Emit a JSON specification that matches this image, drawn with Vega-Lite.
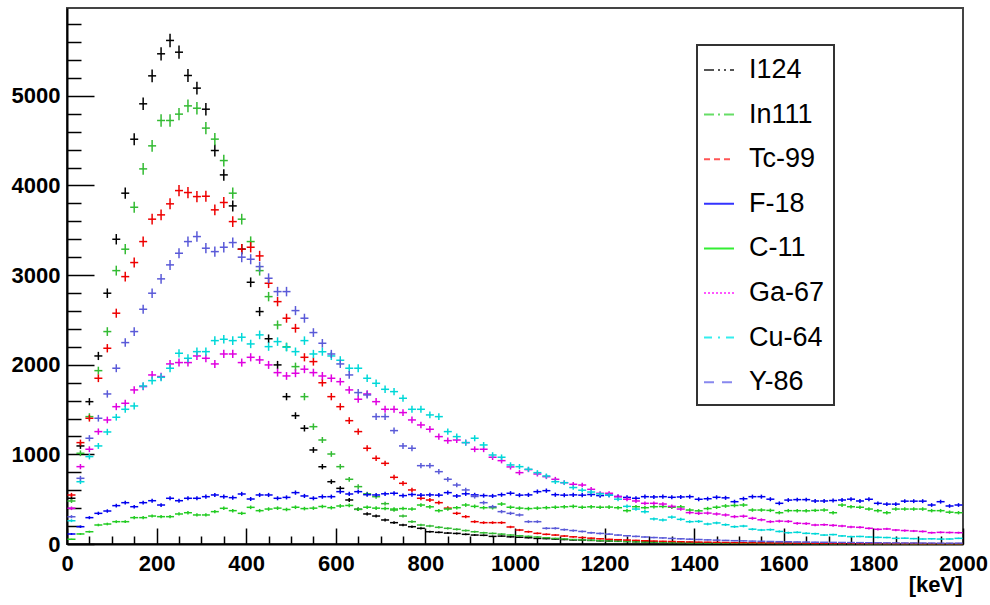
{
"$schema": "https://vega.github.io/schema/vega-lite/v6.json",
"width": 896, "height": 536,
"autosize": {"type": "none"},
"padding": {"left": 67, "top": 8, "right": 27, "bottom": 61},
"background": "white",
"config": {"view": {"stroke": "#444", "strokeWidth": 2}, "font": "Liberation Sans", "legend": {"strokeWidth": 2}},
"data": {"values": [
{"s":"I124","e":10,"n":510},{"s":"I124","e":30,"n":1094},{"s":"I124","e":50,"n":1588},{"s":"I124","e":70,"n":2098},{"s":"I124","e":90,"n":2798},{"s":"I124","e":110,"n":3400},{"s":"I124","e":130,"n":3914},{"s":"I124","e":150,"n":4516},{"s":"I124","e":170,"n":4911},{"s":"I124","e":190,"n":5223},
{"s":"I124","e":210,"n":5469},{"s":"I124","e":230,"n":5618},{"s":"I124","e":250,"n":5487},{"s":"I124","e":270,"n":5227},{"s":"I124","e":290,"n":5086},{"s":"I124","e":310,"n":4851},{"s":"I124","e":330,"n":4390},{"s":"I124","e":350,"n":4118},{"s":"I124","e":370,"n":3772},{"s":"I124","e":390,"n":3290},
{"s":"I124","e":410,"n":2920},{"s":"I124","e":430,"n":2593},{"s":"I124","e":450,"n":2290},{"s":"I124","e":470,"n":1998},{"s":"I124","e":490,"n":1644},{"s":"I124","e":510,"n":1432},{"s":"I124","e":530,"n":1291},{"s":"I124","e":550,"n":1049},{"s":"I124","e":570,"n":863},{"s":"I124","e":590,"n":695},
{"s":"I124","e":610,"n":621},{"s":"I124","e":630,"n":491},{"s":"I124","e":650,"n":387},{"s":"I124","e":670,"n":335},{"s":"I124","e":690,"n":312},{"s":"I124","e":710,"n":268},{"s":"I124","e":730,"n":238},{"s":"I124","e":750,"n":212},{"s":"I124","e":770,"n":193},{"s":"I124","e":790,"n":175},
{"s":"I124","e":810,"n":137},{"s":"I124","e":830,"n":130},{"s":"I124","e":850,"n":122},{"s":"I124","e":870,"n":118},{"s":"I124","e":890,"n":108},{"s":"I124","e":910,"n":100},{"s":"I124","e":930,"n":97},{"s":"I124","e":950,"n":85},{"s":"I124","e":970,"n":88},{"s":"I124","e":990,"n":80},
{"s":"I124","e":1010,"n":75},{"s":"I124","e":1030,"n":70},{"s":"I124","e":1050,"n":62},{"s":"I124","e":1070,"n":60},{"s":"I124","e":1090,"n":55},{"s":"I124","e":1110,"n":50},{"s":"I124","e":1130,"n":45},{"s":"I124","e":1150,"n":44},{"s":"I124","e":1170,"n":40},{"s":"I124","e":1190,"n":36},
{"s":"I124","e":1210,"n":33},{"s":"I124","e":1230,"n":30},{"s":"I124","e":1250,"n":28},{"s":"I124","e":1270,"n":26},{"s":"I124","e":1290,"n":24},{"s":"I124","e":1310,"n":22},{"s":"I124","e":1330,"n":20},{"s":"I124","e":1350,"n":18},{"s":"I124","e":1370,"n":17},{"s":"I124","e":1390,"n":15},
{"s":"I124","e":1410,"n":14},{"s":"I124","e":1430,"n":13},{"s":"I124","e":1450,"n":12},{"s":"I124","e":1470,"n":12},{"s":"I124","e":1490,"n":11},{"s":"I124","e":1510,"n":10},{"s":"I124","e":1530,"n":10},{"s":"I124","e":1550,"n":9},{"s":"I124","e":1570,"n":9},{"s":"I124","e":1590,"n":8},
{"s":"I124","e":1610,"n":8},{"s":"I124","e":1630,"n":7},{"s":"I124","e":1650,"n":7},{"s":"I124","e":1670,"n":7},{"s":"I124","e":1690,"n":6},{"s":"I124","e":1710,"n":6},{"s":"I124","e":1730,"n":6},{"s":"I124","e":1750,"n":5},{"s":"I124","e":1770,"n":5},{"s":"I124","e":1790,"n":5},
{"s":"I124","e":1810,"n":5},{"s":"I124","e":1830,"n":4},{"s":"I124","e":1850,"n":4},{"s":"I124","e":1870,"n":4},{"s":"I124","e":1890,"n":4},{"s":"I124","e":1910,"n":4},{"s":"I124","e":1930,"n":3},{"s":"I124","e":1950,"n":3},{"s":"I124","e":1970,"n":3},{"s":"I124","e":1990,"n":3},

{"s":"In111","e":10,"n":480},{"s":"In111","e":30,"n":1012},{"s":"In111","e":50,"n":1421},{"s":"In111","e":70,"n":1934},{"s":"In111","e":90,"n":2370},{"s":"In111","e":110,"n":3050},{"s":"In111","e":130,"n":3289},{"s":"In111","e":150,"n":3757},{"s":"In111","e":170,"n":4185},{"s":"In111","e":190,"n":4442},
{"s":"In111","e":210,"n":4725},{"s":"In111","e":230,"n":4725},{"s":"In111","e":250,"n":4796},{"s":"In111","e":270,"n":4888},{"s":"In111","e":290,"n":4862},{"s":"In111","e":310,"n":4640},{"s":"In111","e":330,"n":4517},{"s":"In111","e":350,"n":4278},{"s":"In111","e":370,"n":3914},{"s":"In111","e":390,"n":3624},
{"s":"In111","e":410,"n":3374},{"s":"In111","e":430,"n":3050},{"s":"In111","e":450,"n":2760},{"s":"In111","e":470,"n":2444},{"s":"In111","e":490,"n":2200},{"s":"In111","e":510,"n":1979},{"s":"In111","e":530,"n":1644},{"s":"In111","e":550,"n":1309},{"s":"In111","e":570,"n":1161},{"s":"In111","e":590,"n":1004},
{"s":"In111","e":610,"n":863},{"s":"In111","e":630,"n":722},{"s":"In111","e":650,"n":640},{"s":"In111","e":670,"n":560},{"s":"In111","e":690,"n":528},{"s":"In111","e":710,"n":450},{"s":"In111","e":730,"n":379},{"s":"In111","e":750,"n":312},{"s":"In111","e":770,"n":249},{"s":"In111","e":790,"n":212},
{"s":"In111","e":810,"n":201},{"s":"In111","e":830,"n":186},{"s":"In111","e":850,"n":175},{"s":"In111","e":870,"n":164},{"s":"In111","e":890,"n":150},{"s":"In111","e":910,"n":137},{"s":"In111","e":930,"n":125},{"s":"In111","e":950,"n":118},{"s":"In111","e":970,"n":110},{"s":"In111","e":990,"n":100},
{"s":"In111","e":1010,"n":92},{"s":"In111","e":1030,"n":85},{"s":"In111","e":1050,"n":78},{"s":"In111","e":1070,"n":70},{"s":"In111","e":1090,"n":62},{"s":"In111","e":1110,"n":56},{"s":"In111","e":1130,"n":50},{"s":"In111","e":1150,"n":46},{"s":"In111","e":1170,"n":42},{"s":"In111","e":1190,"n":38},
{"s":"In111","e":1210,"n":34},{"s":"In111","e":1230,"n":31},{"s":"In111","e":1250,"n":28},{"s":"In111","e":1270,"n":25},{"s":"In111","e":1290,"n":22},{"s":"In111","e":1310,"n":20},{"s":"In111","e":1330,"n":18},{"s":"In111","e":1350,"n":16},{"s":"In111","e":1370,"n":15},{"s":"In111","e":1390,"n":13},
{"s":"In111","e":1410,"n":12},{"s":"In111","e":1430,"n":11},{"s":"In111","e":1450,"n":10},{"s":"In111","e":1470,"n":10},{"s":"In111","e":1490,"n":9},{"s":"In111","e":1510,"n":8},{"s":"In111","e":1530,"n":8},{"s":"In111","e":1550,"n":7},{"s":"In111","e":1570,"n":7},{"s":"In111","e":1590,"n":6},
{"s":"In111","e":1610,"n":6},{"s":"In111","e":1630,"n":6},{"s":"In111","e":1650,"n":5},{"s":"In111","e":1670,"n":5},{"s":"In111","e":1690,"n":5},{"s":"In111","e":1710,"n":4},{"s":"In111","e":1730,"n":4},{"s":"In111","e":1750,"n":4},{"s":"In111","e":1770,"n":4},{"s":"In111","e":1790,"n":3},
{"s":"In111","e":1810,"n":3},{"s":"In111","e":1830,"n":3},{"s":"In111","e":1850,"n":3},{"s":"In111","e":1870,"n":3},{"s":"In111","e":1890,"n":2},{"s":"In111","e":1910,"n":2},{"s":"In111","e":1930,"n":2},{"s":"In111","e":1950,"n":2},{"s":"In111","e":1970,"n":2},{"s":"In111","e":1990,"n":2},

{"s":"Tc-99","e":10,"n":547},{"s":"Tc-99","e":30,"n":1131},{"s":"Tc-99","e":50,"n":1403},{"s":"Tc-99","e":70,"n":1849},{"s":"Tc-99","e":90,"n":2184},{"s":"Tc-99","e":110,"n":2575},{"s":"Tc-99","e":130,"n":2983},{"s":"Tc-99","e":150,"n":3140},{"s":"Tc-99","e":170,"n":3374},{"s":"Tc-99","e":190,"n":3624},
{"s":"Tc-99","e":210,"n":3672},{"s":"Tc-99","e":230,"n":3795},{"s":"Tc-99","e":250,"n":3943},{"s":"Tc-99","e":270,"n":3921},{"s":"Tc-99","e":290,"n":3876},{"s":"Tc-99","e":310,"n":3880},{"s":"Tc-99","e":330,"n":3728},{"s":"Tc-99","e":350,"n":3810},{"s":"Tc-99","e":370,"n":3597},{"s":"Tc-99","e":390,"n":3289},
{"s":"Tc-99","e":410,"n":3311},{"s":"Tc-99","e":430,"n":3214},{"s":"Tc-99","e":450,"n":2909},{"s":"Tc-99","e":470,"n":2704},{"s":"Tc-99","e":490,"n":2519},{"s":"Tc-99","e":510,"n":2407},{"s":"Tc-99","e":530,"n":2083},{"s":"Tc-99","e":550,"n":2035},{"s":"Tc-99","e":570,"n":1800},{"s":"Tc-99","e":590,"n":1644},
{"s":"Tc-99","e":610,"n":1532},{"s":"Tc-99","e":630,"n":1376},{"s":"Tc-99","e":650,"n":1254},{"s":"Tc-99","e":670,"n":1068},{"s":"Tc-99","e":690,"n":956},{"s":"Tc-99","e":710,"n":900},{"s":"Tc-99","e":730,"n":744},{"s":"Tc-99","e":750,"n":677},{"s":"Tc-99","e":770,"n":603},{"s":"Tc-99","e":790,"n":510},
{"s":"Tc-99","e":810,"n":491},{"s":"Tc-99","e":830,"n":461},{"s":"Tc-99","e":850,"n":400},{"s":"Tc-99","e":870,"n":342},{"s":"Tc-99","e":890,"n":305},{"s":"Tc-99","e":910,"n":249},{"s":"Tc-99","e":930,"n":238},{"s":"Tc-99","e":950,"n":238},{"s":"Tc-99","e":970,"n":238},{"s":"Tc-99","e":990,"n":190},
{"s":"Tc-99","e":1010,"n":156},{"s":"Tc-99","e":1030,"n":137},{"s":"Tc-99","e":1050,"n":119},{"s":"Tc-99","e":1070,"n":108},{"s":"Tc-99","e":1090,"n":100},{"s":"Tc-99","e":1110,"n":89},{"s":"Tc-99","e":1130,"n":80},{"s":"Tc-99","e":1150,"n":72},{"s":"Tc-99","e":1170,"n":65},{"s":"Tc-99","e":1190,"n":58},
{"s":"Tc-99","e":1210,"n":52},{"s":"Tc-99","e":1230,"n":48},{"s":"Tc-99","e":1250,"n":44},{"s":"Tc-99","e":1270,"n":40},{"s":"Tc-99","e":1290,"n":36},{"s":"Tc-99","e":1310,"n":33},{"s":"Tc-99","e":1330,"n":30},{"s":"Tc-99","e":1350,"n":28},{"s":"Tc-99","e":1370,"n":25},{"s":"Tc-99","e":1390,"n":23},
{"s":"Tc-99","e":1410,"n":21},{"s":"Tc-99","e":1430,"n":20},{"s":"Tc-99","e":1450,"n":18},{"s":"Tc-99","e":1470,"n":17},{"s":"Tc-99","e":1490,"n":15},{"s":"Tc-99","e":1510,"n":14},{"s":"Tc-99","e":1530,"n":13},{"s":"Tc-99","e":1550,"n":12},{"s":"Tc-99","e":1570,"n":11},{"s":"Tc-99","e":1590,"n":10},
{"s":"Tc-99","e":1610,"n":10},{"s":"Tc-99","e":1630,"n":9},{"s":"Tc-99","e":1650,"n":9},{"s":"Tc-99","e":1670,"n":8},{"s":"Tc-99","e":1690,"n":8},{"s":"Tc-99","e":1710,"n":7},{"s":"Tc-99","e":1730,"n":7},{"s":"Tc-99","e":1750,"n":7},{"s":"Tc-99","e":1770,"n":6},{"s":"Tc-99","e":1790,"n":6},
{"s":"Tc-99","e":1810,"n":6},{"s":"Tc-99","e":1830,"n":5},{"s":"Tc-99","e":1850,"n":5},{"s":"Tc-99","e":1870,"n":5},{"s":"Tc-99","e":1890,"n":5},{"s":"Tc-99","e":1910,"n":4},{"s":"Tc-99","e":1930,"n":4},{"s":"Tc-99","e":1950,"n":4},{"s":"Tc-99","e":1970,"n":4},{"s":"Tc-99","e":1990,"n":4},

{"s":"F-18","e":10,"n":112},{"s":"F-18","e":30,"n":193},{"s":"F-18","e":50,"n":294},{"s":"F-18","e":70,"n":342},{"s":"F-18","e":90,"n":368},{"s":"F-18","e":110,"n":428},{"s":"F-18","e":130,"n":461},{"s":"F-18","e":150,"n":416},{"s":"F-18","e":170,"n":461},{"s":"F-18","e":190,"n":483},
{"s":"F-18","e":210,"n":435},{"s":"F-18","e":230,"n":510},{"s":"F-18","e":250,"n":483},{"s":"F-18","e":270,"n":510},{"s":"F-18","e":290,"n":510},{"s":"F-18","e":310,"n":528},{"s":"F-18","e":330,"n":547},{"s":"F-18","e":350,"n":528},{"s":"F-18","e":370,"n":517},{"s":"F-18","e":390,"n":558},
{"s":"F-18","e":410,"n":502},{"s":"F-18","e":430,"n":547},{"s":"F-18","e":450,"n":547},{"s":"F-18","e":470,"n":510},{"s":"F-18","e":490,"n":520},{"s":"F-18","e":510,"n":573},{"s":"F-18","e":530,"n":536},{"s":"F-18","e":550,"n":510},{"s":"F-18","e":570,"n":528},{"s":"F-18","e":590,"n":528},
{"s":"F-18","e":610,"n":584},{"s":"F-18","e":630,"n":558},{"s":"F-18","e":650,"n":584},{"s":"F-18","e":670,"n":550},{"s":"F-18","e":690,"n":547},{"s":"F-18","e":710,"n":560},{"s":"F-18","e":730,"n":566},{"s":"F-18","e":750,"n":540},{"s":"F-18","e":770,"n":552},{"s":"F-18","e":790,"n":545},
{"s":"F-18","e":810,"n":548},{"s":"F-18","e":830,"n":545},{"s":"F-18","e":850,"n":573},{"s":"F-18","e":870,"n":536},{"s":"F-18","e":890,"n":560},{"s":"F-18","e":910,"n":548},{"s":"F-18","e":930,"n":540},{"s":"F-18","e":950,"n":536},{"s":"F-18","e":970,"n":550},{"s":"F-18","e":990,"n":566},
{"s":"F-18","e":1010,"n":545},{"s":"F-18","e":1030,"n":548},{"s":"F-18","e":1050,"n":584},{"s":"F-18","e":1070,"n":595},{"s":"F-18","e":1090,"n":550},{"s":"F-18","e":1110,"n":545},{"s":"F-18","e":1130,"n":548},{"s":"F-18","e":1150,"n":545},{"s":"F-18","e":1170,"n":552},{"s":"F-18","e":1190,"n":540},
{"s":"F-18","e":1210,"n":545},{"s":"F-18","e":1230,"n":530},{"s":"F-18","e":1250,"n":520},{"s":"F-18","e":1270,"n":510},{"s":"F-18","e":1290,"n":528},{"s":"F-18","e":1310,"n":525},{"s":"F-18","e":1330,"n":528},{"s":"F-18","e":1350,"n":521},{"s":"F-18","e":1370,"n":525},{"s":"F-18","e":1390,"n":528},
{"s":"F-18","e":1410,"n":499},{"s":"F-18","e":1430,"n":505},{"s":"F-18","e":1450,"n":521},{"s":"F-18","e":1470,"n":515},{"s":"F-18","e":1490,"n":472},{"s":"F-18","e":1510,"n":505},{"s":"F-18","e":1530,"n":528},{"s":"F-18","e":1550,"n":528},{"s":"F-18","e":1570,"n":500},{"s":"F-18","e":1590,"n":454},
{"s":"F-18","e":1610,"n":490},{"s":"F-18","e":1630,"n":495},{"s":"F-18","e":1650,"n":495},{"s":"F-18","e":1670,"n":480},{"s":"F-18","e":1690,"n":480},{"s":"F-18","e":1710,"n":485},{"s":"F-18","e":1730,"n":491},{"s":"F-18","e":1750,"n":500},{"s":"F-18","e":1770,"n":480},{"s":"F-18","e":1790,"n":499},
{"s":"F-18","e":1810,"n":454},{"s":"F-18","e":1830,"n":445},{"s":"F-18","e":1850,"n":445},{"s":"F-18","e":1870,"n":478},{"s":"F-18","e":1890,"n":478},{"s":"F-18","e":1910,"n":478},{"s":"F-18","e":1930,"n":435},{"s":"F-18","e":1950,"n":472},{"s":"F-18","e":1970,"n":424},{"s":"F-18","e":1990,"n":435},

{"s":"C-11","e":10,"n":52},{"s":"C-11","e":30,"n":112},{"s":"C-11","e":50,"n":137},{"s":"C-11","e":70,"n":212},{"s":"C-11","e":90,"n":223},{"s":"C-11","e":110,"n":249},{"s":"C-11","e":130,"n":249},{"s":"C-11","e":150,"n":294},{"s":"C-11","e":170,"n":294},{"s":"C-11","e":190,"n":312},
{"s":"C-11","e":210,"n":305},{"s":"C-11","e":230,"n":305},{"s":"C-11","e":250,"n":335},{"s":"C-11","e":270,"n":349},{"s":"C-11","e":290,"n":324},{"s":"C-11","e":310,"n":324},{"s":"C-11","e":330,"n":361},{"s":"C-11","e":350,"n":398},{"s":"C-11","e":370,"n":372},{"s":"C-11","e":390,"n":342},
{"s":"C-11","e":410,"n":409},{"s":"C-11","e":430,"n":372},{"s":"C-11","e":450,"n":390},{"s":"C-11","e":470,"n":400},{"s":"C-11","e":490,"n":385},{"s":"C-11","e":510,"n":410},{"s":"C-11","e":530,"n":395},{"s":"C-11","e":550,"n":400},{"s":"C-11","e":570,"n":418},{"s":"C-11","e":590,"n":405},
{"s":"C-11","e":610,"n":424},{"s":"C-11","e":630,"n":430},{"s":"C-11","e":650,"n":387},{"s":"C-11","e":670,"n":410},{"s":"C-11","e":690,"n":400},{"s":"C-11","e":710,"n":395},{"s":"C-11","e":730,"n":390},{"s":"C-11","e":750,"n":395},{"s":"C-11","e":770,"n":390},{"s":"C-11","e":790,"n":435},
{"s":"C-11","e":810,"n":415},{"s":"C-11","e":830,"n":372},{"s":"C-11","e":850,"n":390},{"s":"C-11","e":870,"n":405},{"s":"C-11","e":890,"n":435},{"s":"C-11","e":910,"n":420},{"s":"C-11","e":930,"n":405},{"s":"C-11","e":950,"n":405},{"s":"C-11","e":970,"n":446},{"s":"C-11","e":990,"n":410},
{"s":"C-11","e":1010,"n":400},{"s":"C-11","e":1030,"n":395},{"s":"C-11","e":1050,"n":400},{"s":"C-11","e":1070,"n":405},{"s":"C-11","e":1090,"n":410},{"s":"C-11","e":1110,"n":415},{"s":"C-11","e":1130,"n":420},{"s":"C-11","e":1150,"n":410},{"s":"C-11","e":1170,"n":415},{"s":"C-11","e":1190,"n":410},
{"s":"C-11","e":1210,"n":412},{"s":"C-11","e":1230,"n":405},{"s":"C-11","e":1250,"n":372},{"s":"C-11","e":1270,"n":416},{"s":"C-11","e":1290,"n":405},{"s":"C-11","e":1310,"n":416},{"s":"C-11","e":1330,"n":418},{"s":"C-11","e":1350,"n":410},{"s":"C-11","e":1370,"n":414},{"s":"C-11","e":1390,"n":379},
{"s":"C-11","e":1410,"n":370},{"s":"C-11","e":1430,"n":395},{"s":"C-11","e":1450,"n":410},{"s":"C-11","e":1470,"n":424},{"s":"C-11","e":1490,"n":430},{"s":"C-11","e":1510,"n":435},{"s":"C-11","e":1530,"n":379},{"s":"C-11","e":1550,"n":379},{"s":"C-11","e":1570,"n":375},{"s":"C-11","e":1590,"n":349},
{"s":"C-11","e":1610,"n":372},{"s":"C-11","e":1630,"n":372},{"s":"C-11","e":1650,"n":370},{"s":"C-11","e":1670,"n":375},{"s":"C-11","e":1690,"n":379},{"s":"C-11","e":1710,"n":349},{"s":"C-11","e":1730,"n":435},{"s":"C-11","e":1750,"n":416},{"s":"C-11","e":1770,"n":410},{"s":"C-11","e":1790,"n":390},
{"s":"C-11","e":1810,"n":372},{"s":"C-11","e":1830,"n":349},{"s":"C-11","e":1850,"n":390},{"s":"C-11","e":1870,"n":390},{"s":"C-11","e":1890,"n":390},{"s":"C-11","e":1910,"n":390},{"s":"C-11","e":1930,"n":372},{"s":"C-11","e":1950,"n":372},{"s":"C-11","e":1970,"n":355},{"s":"C-11","e":1990,"n":349},

{"s":"Ga-67","e":10,"n":398},{"s":"Ga-67","e":30,"n":863},{"s":"Ga-67","e":50,"n":1057},{"s":"Ga-67","e":70,"n":1254},{"s":"Ga-67","e":90,"n":1384},{"s":"Ga-67","e":110,"n":1532},{"s":"Ga-67","e":130,"n":1570},{"s":"Ga-67","e":150,"n":1719},{"s":"Ga-67","e":170,"n":1756},{"s":"Ga-67","e":190,"n":1886},
{"s":"Ga-67","e":210,"n":1868},{"s":"Ga-67","e":230,"n":2009},{"s":"Ga-67","e":250,"n":2024},{"s":"Ga-67","e":270,"n":2024},{"s":"Ga-67","e":290,"n":2098},{"s":"Ga-67","e":310,"n":2072},{"s":"Ga-67","e":330,"n":2009},{"s":"Ga-67","e":350,"n":2120},{"s":"Ga-67","e":370,"n":2120},{"s":"Ga-67","e":390,"n":2024},
{"s":"Ga-67","e":410,"n":2083},{"s":"Ga-67","e":430,"n":2054},{"s":"Ga-67","e":450,"n":1998},{"s":"Ga-67","e":470,"n":1912},{"s":"Ga-67","e":490,"n":1875},{"s":"Ga-67","e":510,"n":1905},{"s":"Ga-67","e":530,"n":1950},{"s":"Ga-67","e":550,"n":1912},{"s":"Ga-67","e":570,"n":1875},{"s":"Ga-67","e":590,"n":1849},
{"s":"Ga-67","e":610,"n":1811},{"s":"Ga-67","e":630,"n":1719},{"s":"Ga-67","e":650,"n":1615},{"s":"Ga-67","e":670,"n":1674},{"s":"Ga-67","e":690,"n":1588},{"s":"Ga-67","e":710,"n":1503},{"s":"Ga-67","e":730,"n":1503},{"s":"Ga-67","e":750,"n":1466},{"s":"Ga-67","e":770,"n":1384},{"s":"Ga-67","e":790,"n":1328},
{"s":"Ga-67","e":810,"n":1280},{"s":"Ga-67","e":830,"n":1198},{"s":"Ga-67","e":850,"n":1153},{"s":"Ga-67","e":870,"n":1160},{"s":"Ga-67","e":890,"n":1131},{"s":"Ga-67","e":910,"n":1057},{"s":"Ga-67","e":930,"n":1057},{"s":"Ga-67","e":950,"n":968},{"s":"Ga-67","e":970,"n":930},{"s":"Ga-67","e":990,"n":860},
{"s":"Ga-67","e":1010,"n":796},{"s":"Ga-67","e":1030,"n":830},{"s":"Ga-67","e":1050,"n":781},{"s":"Ga-67","e":1070,"n":751},{"s":"Ga-67","e":1090,"n":722},{"s":"Ga-67","e":1110,"n":684},{"s":"Ga-67","e":1130,"n":666},{"s":"Ga-67","e":1150,"n":658},{"s":"Ga-67","e":1170,"n":610},{"s":"Ga-67","e":1190,"n":566},
{"s":"Ga-67","e":1210,"n":566},{"s":"Ga-67","e":1230,"n":528},{"s":"Ga-67","e":1250,"n":499},{"s":"Ga-67","e":1270,"n":480},{"s":"Ga-67","e":1290,"n":454},{"s":"Ga-67","e":1310,"n":454},{"s":"Ga-67","e":1330,"n":446},{"s":"Ga-67","e":1350,"n":420},{"s":"Ga-67","e":1370,"n":390},{"s":"Ga-67","e":1390,"n":350},
{"s":"Ga-67","e":1410,"n":342},{"s":"Ga-67","e":1430,"n":345},{"s":"Ga-67","e":1450,"n":335},{"s":"Ga-67","e":1470,"n":324},{"s":"Ga-67","e":1490,"n":305},{"s":"Ga-67","e":1510,"n":310},{"s":"Ga-67","e":1530,"n":287},{"s":"Ga-67","e":1550,"n":270},{"s":"Ga-67","e":1570,"n":249},{"s":"Ga-67","e":1590,"n":255},
{"s":"Ga-67","e":1610,"n":252},{"s":"Ga-67","e":1630,"n":231},{"s":"Ga-67","e":1650,"n":228},{"s":"Ga-67","e":1670,"n":212},{"s":"Ga-67","e":1690,"n":215},{"s":"Ga-67","e":1710,"n":208},{"s":"Ga-67","e":1730,"n":201},{"s":"Ga-67","e":1750,"n":190},{"s":"Ga-67","e":1770,"n":186},{"s":"Ga-67","e":1790,"n":175},
{"s":"Ga-67","e":1810,"n":164},{"s":"Ga-67","e":1830,"n":168},{"s":"Ga-67","e":1850,"n":156},{"s":"Ga-67","e":1870,"n":150},{"s":"Ga-67","e":1890,"n":145},{"s":"Ga-67","e":1910,"n":140},{"s":"Ga-67","e":1930,"n":126},{"s":"Ga-67","e":1950,"n":130},{"s":"Ga-67","e":1970,"n":128},{"s":"Ga-67","e":1990,"n":126},

{"s":"Cu-64","e":10,"n":260},{"s":"Cu-64","e":30,"n":695},{"s":"Cu-64","e":50,"n":975},{"s":"Cu-64","e":70,"n":1094},{"s":"Cu-64","e":90,"n":1250},{"s":"Cu-64","e":110,"n":1414},{"s":"Cu-64","e":130,"n":1503},{"s":"Cu-64","e":150,"n":1540},{"s":"Cu-64","e":170,"n":1763},{"s":"Cu-64","e":190,"n":1823},
{"s":"Cu-64","e":210,"n":1860},{"s":"Cu-64","e":230,"n":1961},{"s":"Cu-64","e":250,"n":2128},{"s":"Cu-64","e":270,"n":2072},{"s":"Cu-64","e":290,"n":2146},{"s":"Cu-64","e":310,"n":2146},{"s":"Cu-64","e":330,"n":2269},{"s":"Cu-64","e":350,"n":2284},{"s":"Cu-64","e":370,"n":2269},{"s":"Cu-64","e":390,"n":2307},
{"s":"Cu-64","e":410,"n":2232},{"s":"Cu-64","e":430,"n":2333},{"s":"Cu-64","e":450,"n":2202},{"s":"Cu-64","e":470,"n":2258},{"s":"Cu-64","e":490,"n":2195},{"s":"Cu-64","e":510,"n":2146},{"s":"Cu-64","e":530,"n":2269},{"s":"Cu-64","e":550,"n":2120},{"s":"Cu-64","e":570,"n":2146},{"s":"Cu-64","e":590,"n":2098},
{"s":"Cu-64","e":610,"n":2050},{"s":"Cu-64","e":630,"n":1961},{"s":"Cu-64","e":650,"n":1961},{"s":"Cu-64","e":670,"n":1849},{"s":"Cu-64","e":690,"n":1793},{"s":"Cu-64","e":710,"n":1726},{"s":"Cu-64","e":730,"n":1700},{"s":"Cu-64","e":750,"n":1626},{"s":"Cu-64","e":770,"n":1503},{"s":"Cu-64","e":790,"n":1503},
{"s":"Cu-64","e":810,"n":1440},{"s":"Cu-64","e":830,"n":1421},{"s":"Cu-64","e":850,"n":1254},{"s":"Cu-64","e":870,"n":1198},{"s":"Cu-64","e":890,"n":1131},{"s":"Cu-64","e":910,"n":1180},{"s":"Cu-64","e":930,"n":1105},{"s":"Cu-64","e":950,"n":993},{"s":"Cu-64","e":970,"n":968},{"s":"Cu-64","e":990,"n":882},
{"s":"Cu-64","e":1010,"n":863},{"s":"Cu-64","e":1030,"n":834},{"s":"Cu-64","e":1050,"n":796},{"s":"Cu-64","e":1070,"n":759},{"s":"Cu-64","e":1090,"n":695},{"s":"Cu-64","e":1110,"n":684},{"s":"Cu-64","e":1130,"n":630},{"s":"Cu-64","e":1150,"n":600},{"s":"Cu-64","e":1170,"n":580},{"s":"Cu-64","e":1190,"n":560},
{"s":"Cu-64","e":1210,"n":545},{"s":"Cu-64","e":1230,"n":500},{"s":"Cu-64","e":1250,"n":420},{"s":"Cu-64","e":1270,"n":390},{"s":"Cu-64","e":1290,"n":360},{"s":"Cu-64","e":1310,"n":280},{"s":"Cu-64","e":1330,"n":268},{"s":"Cu-64","e":1350,"n":300},{"s":"Cu-64","e":1370,"n":275},{"s":"Cu-64","e":1390,"n":249},
{"s":"Cu-64","e":1410,"n":252},{"s":"Cu-64","e":1430,"n":223},{"s":"Cu-64","e":1450,"n":235},{"s":"Cu-64","e":1470,"n":215},{"s":"Cu-64","e":1490,"n":193},{"s":"Cu-64","e":1510,"n":200},{"s":"Cu-64","e":1530,"n":165},{"s":"Cu-64","e":1550,"n":156},{"s":"Cu-64","e":1570,"n":160},{"s":"Cu-64","e":1590,"n":140},
{"s":"Cu-64","e":1610,"n":126},{"s":"Cu-64","e":1630,"n":130},{"s":"Cu-64","e":1650,"n":119},{"s":"Cu-64","e":1670,"n":115},{"s":"Cu-64","e":1690,"n":100},{"s":"Cu-64","e":1710,"n":105},{"s":"Cu-64","e":1730,"n":90},{"s":"Cu-64","e":1750,"n":82},{"s":"Cu-64","e":1770,"n":84},{"s":"Cu-64","e":1790,"n":78},
{"s":"Cu-64","e":1810,"n":74},{"s":"Cu-64","e":1830,"n":72},{"s":"Cu-64","e":1850,"n":63},{"s":"Cu-64","e":1870,"n":65},{"s":"Cu-64","e":1890,"n":60},{"s":"Cu-64","e":1910,"n":56},{"s":"Cu-64","e":1930,"n":58},{"s":"Cu-64","e":1950,"n":55},{"s":"Cu-64","e":1970,"n":56},{"s":"Cu-64","e":1990,"n":63},

{"s":"Y-86","e":10,"n":305},{"s":"Y-86","e":30,"n":733},{"s":"Y-86","e":50,"n":1180},{"s":"Y-86","e":70,"n":1403},{"s":"Y-86","e":90,"n":1674},{"s":"Y-86","e":110,"n":1961},{"s":"Y-86","e":130,"n":2247},{"s":"Y-86","e":150,"n":2370},{"s":"Y-86","e":170,"n":2619},{"s":"Y-86","e":190,"n":2798},
{"s":"Y-86","e":210,"n":2958},{"s":"Y-86","e":230,"n":3114},{"s":"Y-86","e":250,"n":3244},{"s":"Y-86","e":270,"n":3374},{"s":"Y-86","e":290,"n":3430},{"s":"Y-86","e":310,"n":3300},{"s":"Y-86","e":330,"n":3262},{"s":"Y-86","e":350,"n":3311},{"s":"Y-86","e":370,"n":3363},{"s":"Y-86","e":390,"n":3200},
{"s":"Y-86","e":410,"n":3177},{"s":"Y-86","e":430,"n":3095},{"s":"Y-86","e":450,"n":2965},{"s":"Y-86","e":470,"n":2816},{"s":"Y-86","e":490,"n":2816},{"s":"Y-86","e":510,"n":2604},{"s":"Y-86","e":530,"n":2519},{"s":"Y-86","e":550,"n":2359},{"s":"Y-86","e":570,"n":2240},{"s":"Y-86","e":590,"n":2120},
{"s":"Y-86","e":610,"n":2009},{"s":"Y-86","e":630,"n":1886},{"s":"Y-86","e":650,"n":1689},{"s":"Y-86","e":670,"n":1663},{"s":"Y-86","e":690,"n":1421},{"s":"Y-86","e":710,"n":1421},{"s":"Y-86","e":730,"n":1265},{"s":"Y-86","e":750,"n":1094},{"s":"Y-86","e":770,"n":1068},{"s":"Y-86","e":790,"n":874},
{"s":"Y-86","e":810,"n":874},{"s":"Y-86","e":830,"n":807},{"s":"Y-86","e":850,"n":722},{"s":"Y-86","e":870,"n":658},{"s":"Y-86","e":890,"n":603},{"s":"Y-86","e":910,"n":530},{"s":"Y-86","e":930,"n":461},{"s":"Y-86","e":950,"n":416},{"s":"Y-86","e":970,"n":361},{"s":"Y-86","e":990,"n":342},
{"s":"Y-86","e":1010,"n":324},{"s":"Y-86","e":1030,"n":249},{"s":"Y-86","e":1050,"n":249},{"s":"Y-86","e":1070,"n":175},{"s":"Y-86","e":1090,"n":175},{"s":"Y-86","e":1110,"n":160},{"s":"Y-86","e":1130,"n":150},{"s":"Y-86","e":1150,"n":140},{"s":"Y-86","e":1170,"n":125},{"s":"Y-86","e":1190,"n":118},
{"s":"Y-86","e":1210,"n":110},{"s":"Y-86","e":1230,"n":100},{"s":"Y-86","e":1250,"n":92},{"s":"Y-86","e":1270,"n":85},{"s":"Y-86","e":1290,"n":78},{"s":"Y-86","e":1310,"n":72},{"s":"Y-86","e":1330,"n":68},{"s":"Y-86","e":1350,"n":62},{"s":"Y-86","e":1370,"n":58},{"s":"Y-86","e":1390,"n":54},
{"s":"Y-86","e":1410,"n":50},{"s":"Y-86","e":1430,"n":46},{"s":"Y-86","e":1450,"n":43},{"s":"Y-86","e":1470,"n":40},{"s":"Y-86","e":1490,"n":37},{"s":"Y-86","e":1510,"n":35},{"s":"Y-86","e":1530,"n":32},{"s":"Y-86","e":1550,"n":30},{"s":"Y-86","e":1570,"n":28},{"s":"Y-86","e":1590,"n":26},
{"s":"Y-86","e":1610,"n":25},{"s":"Y-86","e":1630,"n":23},{"s":"Y-86","e":1650,"n":22},{"s":"Y-86","e":1670,"n":20},{"s":"Y-86","e":1690,"n":19},{"s":"Y-86","e":1710,"n":18},{"s":"Y-86","e":1730,"n":17},{"s":"Y-86","e":1750,"n":16},{"s":"Y-86","e":1770,"n":15},{"s":"Y-86","e":1790,"n":14},
{"s":"Y-86","e":1810,"n":13},{"s":"Y-86","e":1830,"n":12},{"s":"Y-86","e":1850,"n":12},{"s":"Y-86","e":1870,"n":11},{"s":"Y-86","e":1890,"n":11},{"s":"Y-86","e":1910,"n":10},{"s":"Y-86","e":1930,"n":10},{"s":"Y-86","e":1950,"n":9},{"s":"Y-86","e":1970,"n":9},{"s":"Y-86","e":1990,"n":9}
]},
"encoding": {
  "x": {"field": "e", "type": "quantitative", "scale": {"domain": [0, 2000], "nice": false},
    "axis": {"values": [0,50,100,150,200,250,300,350,400,450,500,550,600,650,700,750,800,850,900,950,1000,1050,1100,1150,1200,1250,1300,1350,1400,1450,1500,1550,1600,1650,1700,1750,1800,1850,1900,1950,2000],
      "format": "d", "labelExpr": "datum.value % 200 === 0 ? datum.label : ''",
      "tickSize": {"condition": {"test": "datum.value % 200 === 0", "value": -16}, "value": -8},
      "tickColor": "black", "tickWidth": 1.5, "domainColor": "black", "domainWidth": 2,
      "labelFont": "Liberation Sans", "labelFontSize": 22, "labelFontWeight": "bold", "labelColor": "black",
      "labelPadding": 25, "labelFlush": false, "labelOverlap": false, "grid": false,
      "title": "[keV]", "titleFont": "Liberation Sans", "titleFontSize": 22, "titleFontWeight": "bold", "titleColor": "black",
      "titleAlign": "right", "titleAnchor": "end", "titleX": 895, "titleY": 40, "titleBaseline": "middle"}},
  "y": {"field": "n", "type": "quantitative", "scale": {"domain": [0, 5980], "nice": false},
    "axis": {"values": [0,200,400,600,800,1000,1200,1400,1600,1800,2000,2200,2400,2600,2800,3000,3200,3400,3600,3800,4000,4200,4400,4600,4800,5000,5200,5400,5600,5800],
      "format": "d", "labelExpr": "datum.value % 1000 === 0 ? datum.label : ''",
      "tickSize": {"condition": {"test": "datum.value % 1000 === 0", "value": -27}, "value": -14},
      "tickColor": "black", "tickWidth": 1.5, "domainColor": "black", "domainWidth": 2,
      "labelFont": "Liberation Sans", "labelFontSize": 22, "labelFontWeight": "bold", "labelColor": "black",
      "labelPadding": 34, "labelFlush": false, "labelOverlap": false, "grid": false, "title": null}}
},
"layer": [
  {"mark": {"type": "tick", "orient": "horizontal", "size": 8, "thickness": 1.5, "opacity": 1},
   "encoding": {"color": {"field": "s", "type": "nominal",
      "scale": {"domain": ["I124","In111","Tc-99","F-18","C-11","Ga-67","Cu-64","Y-86"], "range": ["#000000","#33bb33","#ee0000","#0000ee","#22cc22","#e000e0","#00d8d8","#5a5ad8"]},
      "legend": null}}},
  {"mark": {"type": "tick", "orient": "vertical", "thickness": 1.5, "opacity": 1},
   "encoding": {"color": {"field": "s", "type": "nominal",
      "scale": {"domain": ["I124","In111","Tc-99","F-18","C-11","Ga-67","Cu-64","Y-86"], "range": ["#000000","#33bb33","#ee0000","#0000ee","#22cc22","#e000e0","#00d8d8","#5a5ad8"]},
      "legend": null},
     "size": {"field": "n", "type": "quantitative", "scale": {"type": "sqrt", "domain": [0, 5600], "range": [0, 13.4]}, "legend": null}}},
  {"transform": [{"filter": "datum.e == 10"}],
   "mark": {"type": "line", "strokeWidth": 2},
   "encoding": {
     "color": {"field": "s", "type": "nominal",
       "scale": {"domain": ["I124","In111","Tc-99","F-18","C-11","Ga-67","Cu-64","Y-86"], "range": ["#555555","#66dd66","#ff5555","#3333ff","#33ee33","#ff55ff","#33eeee","#8888ee"]},
       "legend": {"orient": "none", "legendX": 630, "legendY": 37, "title": null, "symbolType": "stroke", "symbolSize": 900, "symbolStrokeWidth": 2,
         "labelFont": "Liberation Sans", "labelFontSize": 27, "labelColor": "black", "labelOffset": 14, "rowPadding": 15.6, "padding": 9, "symbolOffset": -3,
         "strokeColor": "#333333", "fillColor": "white", "labelLimit": 300,
         "labelExpr": "datum.label + '\u00a0\u00a0\u00a0\u00a0'",
         "encode": {"symbols": {"update": {"strokeDash": {"signal": "datum.value === 'I124' ? [10,4,2,4,2,4] : datum.value === 'In111' ? [10,4,2,4] : datum.value === 'Tc-99' ? [6,4] : datum.value === 'Ga-67' ? [2,2] : datum.value === 'Cu-64' ? [8,6,2,6] : datum.value === 'Y-86' ? [10,8] : [1,0]"}}}}}}}}
],
"resolve": {"scale": {"color": "independent"}, "legend": {"color": "independent"}}
}
